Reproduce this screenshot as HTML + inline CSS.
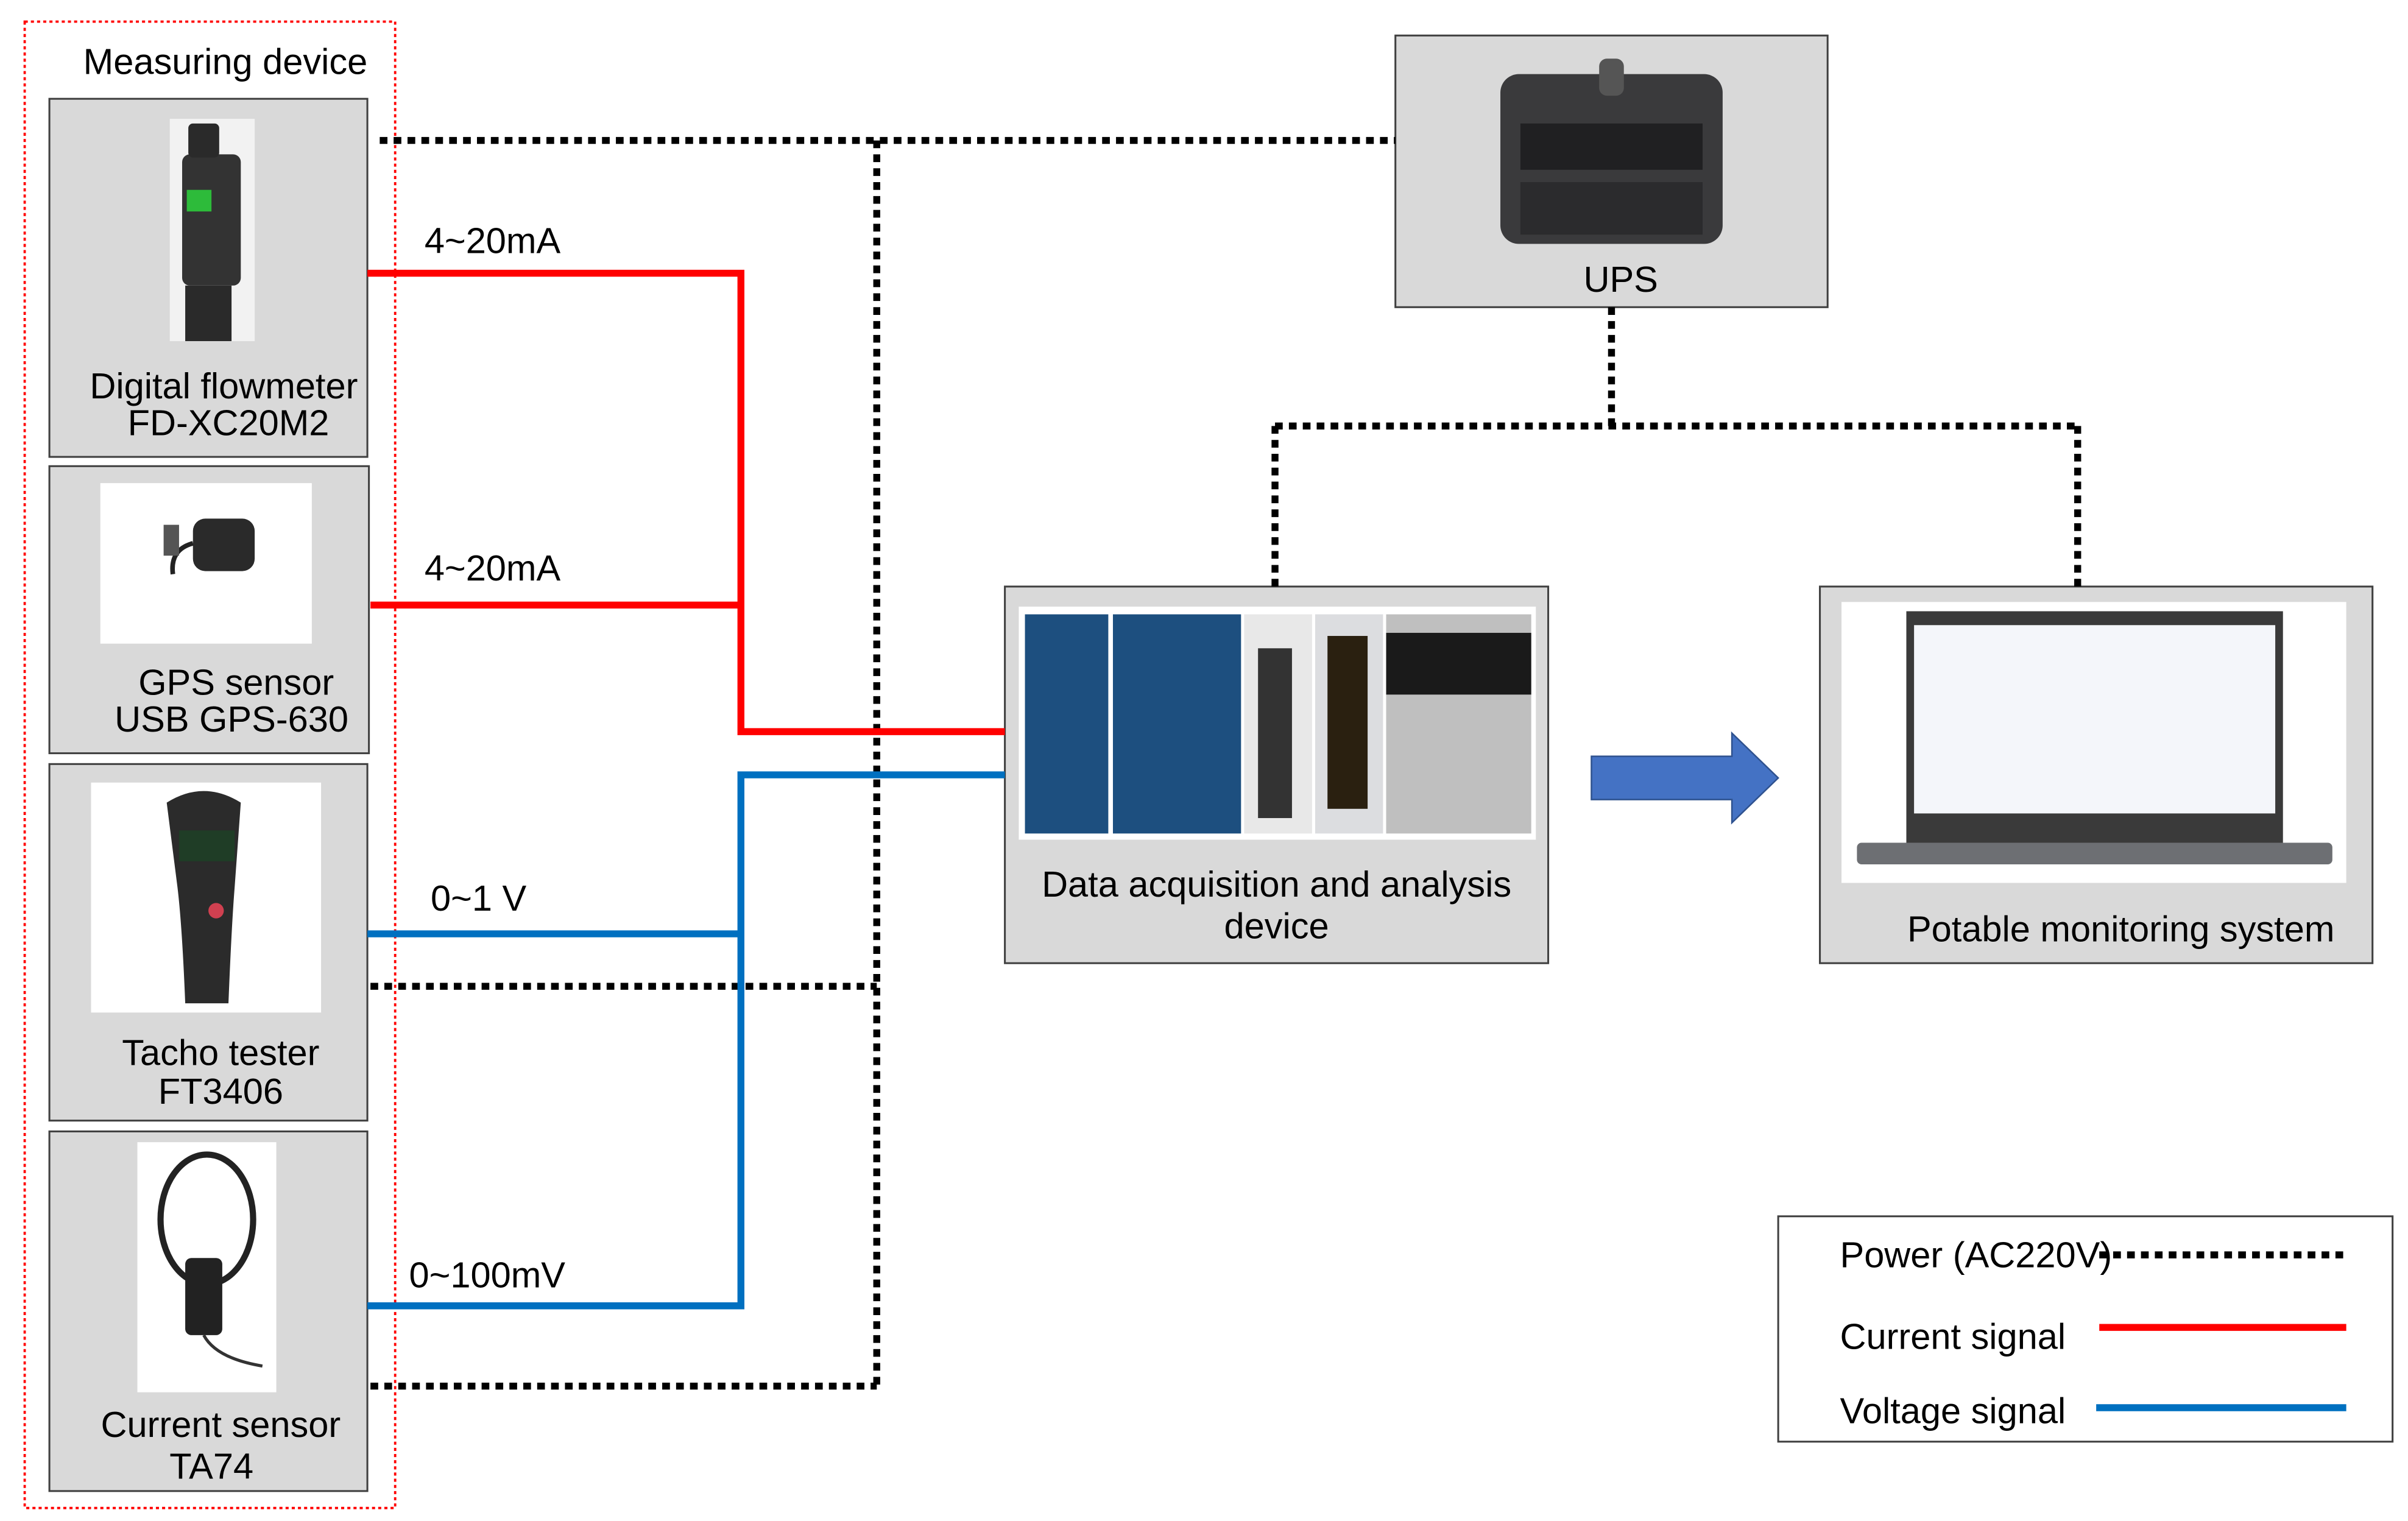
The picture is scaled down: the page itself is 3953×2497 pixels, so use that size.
<!DOCTYPE html>
<html><head><meta charset="utf-8"><style>html,body{margin:0;padding:0;background:#fff}svg{display:block}</style></head>
<body>
<svg width="3953" height="2497" viewBox="0 0 1560 985.4" xmlns="http://www.w3.org/2000/svg" font-family="Liberation Sans, Arial, sans-serif" font-size="23.5" fill="#000">
<rect x="0" y="0" width="1560" height="985.4" fill="#fff"/>
<g fill="#d9d9d9" stroke="#404040" stroke-width="1.2">
<rect x="32" y="64" width="206" height="232"/>
<rect x="32" y="302" width="207" height="186"/>
<rect x="32" y="495" width="206" height="231"/>
<rect x="32" y="733" width="206" height="233"/>
<rect x="904" y="23" width="280" height="176"/>
<rect x="651" y="380" width="352" height="244"/>
<rect x="1179" y="380" width="358" height="244"/>
</g>
<rect x="16" y="14" width="240" height="963" fill="none" stroke="#ff0000" stroke-width="1.5" stroke-dasharray="2,2"/>
<rect x="110" y="77" width="55" height="144" fill="#f2f2f2"/>
<rect x="118" y="100" width="38" height="85" rx="5" fill="#333"/>
<rect x="122" y="80" width="20" height="22" rx="3" fill="#2a2a2a"/>
<rect x="121" y="123" width="16" height="14" fill="#2dbb3a"/>
<rect x="120" y="185" width="30" height="36" fill="#2a2a2a"/>
<rect x="65" y="313" width="137" height="104" fill="#fff"/>
<rect x="125" y="336" width="40" height="34" rx="8" fill="#2a2a2a"/>
<path d="M125 352 Q110 356 112 372" stroke="#222" stroke-width="3" fill="none"/>
<rect x="106" y="340" width="10" height="20" fill="#555"/>
<rect x="59" y="507" width="149" height="149" fill="#fff"/>
<path d="M108 520 Q132 505 156 520 L152 575 Q150 600 148 650 L120 650 Q118 600 115 575 Z" fill="#2b2b2b"/>
<rect x="116" y="538" width="36" height="20" fill="#1f3d26"/>
<circle cx="140" cy="590" r="5" fill="#d04050"/>
<rect x="89" y="740" width="90" height="162" fill="#fff"/>
<ellipse cx="134" cy="790" rx="30" ry="42" fill="none" stroke="#222" stroke-width="4"/>
<rect x="120" y="815" width="24" height="50" rx="4" fill="#222"/>
<path d="M132 865 Q140 880 170 885" stroke="#333" stroke-width="2" fill="none"/>
<rect x="972" y="48" width="144" height="110" rx="12" fill="#3a3a3c"/>
<rect x="1036" y="38" width="16" height="24" rx="5" fill="#555"/>
<rect x="985" y="80" width="118" height="30" fill="#202022"/>
<rect x="985" y="118" width="118" height="34" fill="#2b2b2d"/>
<rect x="660" y="393" width="335" height="151" fill="#fff"/>
<rect x="664" y="398" width="54" height="142" fill="#1d4f7f"/>
<rect x="721" y="398" width="83" height="142" fill="#1d4f7f"/>
<rect x="806" y="398" width="44" height="142" fill="#e8e8e8"/>
<rect x="815" y="420" width="22" height="110" fill="#333"/>
<rect x="852" y="398" width="44" height="142" fill="#dcdde0"/>
<rect x="860" y="412" width="26" height="112" fill="#2a2010"/>
<rect x="898" y="398" width="94" height="142" fill="#bfbfbf"/>
<rect x="898" y="410" width="94" height="40" fill="#1a1a1a"/>
<rect x="1193" y="390" width="327" height="182" fill="#fff"/>
<rect x="1235" y="396" width="244" height="150" fill="#3a3a3a"/>
<rect x="1240" y="405" width="234" height="122" fill="#f4f6fa"/>
<rect x="1203" y="546" width="308" height="14" rx="3" fill="#6d6f73"/>
<g stroke="#000" stroke-width="4.5" stroke-dasharray="5,4" fill="none">
<path d="M246 91 H904"/>
<path d="M568 91 V898"/>
<path d="M240 639 H568"/>
<path d="M240 898 H568"/>
<path d="M1044 199 V276"/>
<path d="M826 276 H1346"/>
<path d="M826 276 V380"/>
<path d="M1346 276 V380"/>
<path d="M1360 813 H1520"/>
</g>
<g stroke="#ff0000" stroke-width="4.5" fill="none">
<path d="M238 177 H480 V474 H651"/>
<path d="M240 392 H480"/>
<path d="M1360 860 H1520"/>
</g>
<g stroke="#0070c0" stroke-width="4.5" fill="none">
<path d="M651 502 H480 V846 H238"/>
<path d="M238 605 H480"/>
<path d="M1358 912 H1520"/>
</g>
<path d="M1031 490 H1122 V475 L1152 504 L1122 533 V518 H1031 Z" fill="#4472c4" stroke="#2f528f" stroke-width="1"/>
<rect x="1152" y="788" width="398" height="146" fill="none" stroke="#404040" stroke-width="1.2"/>
<g text-anchor="middle">
<text x="146" y="48">Measuring device</text>
<text x="145" y="258">Digital flowmeter</text>
<text x="148" y="282">FD-XC20M2</text>
<text x="153" y="450">GPS sensor</text>
<text x="150" y="474">USB GPS-630</text>
<text x="143" y="690">Tacho tester</text>
<text x="143" y="715">FT3406</text>
<text x="143" y="931">Current sensor</text>
<text x="137" y="958">TA74</text>
<text x="1050" y="189">UPS</text>
<text x="827" y="581">Data acquisition and analysis</text>
<text x="827" y="608">device</text>
<text x="1374" y="610">Potable monitoring system</text>
</g>
<text x="275" y="164">4~20mA</text>
<text x="275" y="376">4~20mA</text>
<text x="279" y="590">0~1 V</text>
<text x="265" y="834">0~100mV</text>
<text x="1192" y="821">Power (AC220V)</text>
<text x="1192" y="874">Current signal</text>
<text x="1192" y="922">Voltage signal</text>
</svg>
</body></html>
